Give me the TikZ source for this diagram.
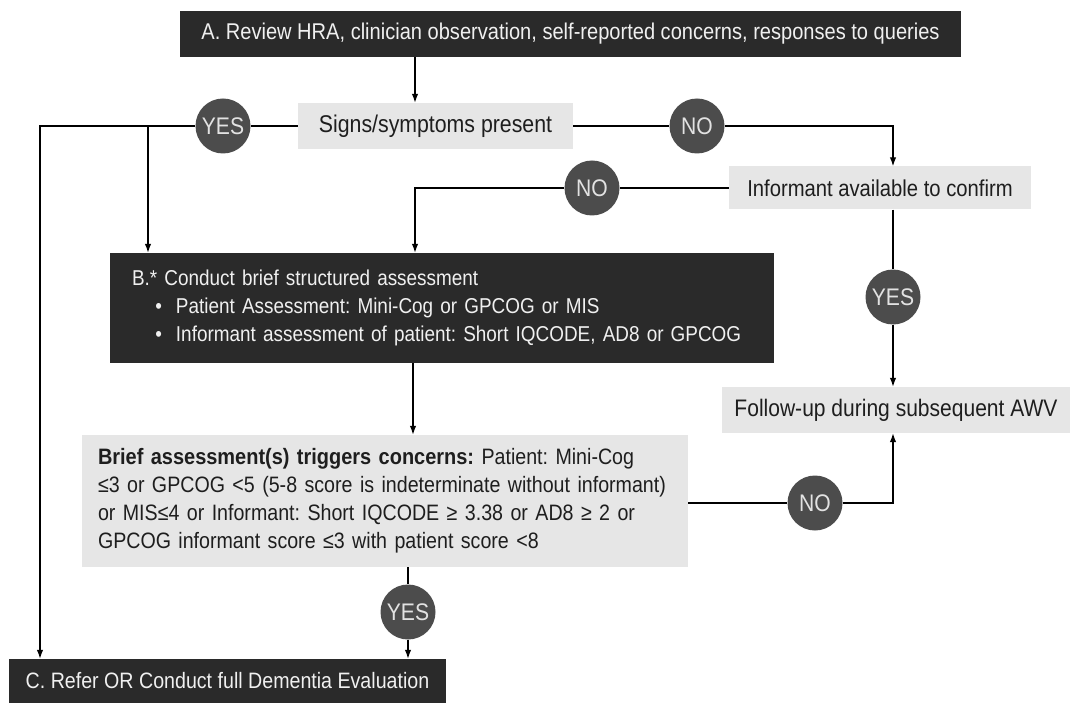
\documentclass[tikz,border=0pt]{standalone}
\usepackage{fontspec}
\setmainfont{Liberation Sans}[FakeStretch=0.88,BoldFeatures={FakeStretch=0.895}]
\usetikzlibrary{arrows.meta}
\definecolor{darkbox}{HTML}{2A2A2A}
\definecolor{lightbox}{HTML}{E6E6E6}
\definecolor{circ}{HTML}{4C4C4C}
\definecolor{lighttext}{HTML}{F0F0F0}
\definecolor{circtext}{HTML}{E2E2E2}
\definecolor{darktext}{HTML}{1E1E1E}
\newcommand{\fs}[1]{\fontsize{#1}{28}\selectfont\frenchspacing}
\begin{document}
\begin{tikzpicture}[x=1pt,y=-1pt,
  darkstep/.style={fill=darkbox,draw=none,text=lighttext,inner sep=0pt,font=\fs{22}},
  lightstep/.style={fill=lightbox,draw=none,text=darktext,inner sep=0pt,font=\fs{22}},
  answer/.style={circle,fill=circ,draw=none,text=circtext,minimum size=55pt,inner sep=0pt,font=\fs{24}},
  conn/.style={draw=black,line width=1.3pt},
  arr/.style={conn,-{Latex[length=9pt,width=6.5pt]}}]
\useasboundingbox (0,0) rectangle (1070,703);
% boxes
\node[darkstep,minimum width=781pt,minimum height=46pt,font=\fs{22.8}] (A) at (570.5,34)
  {A. Review HRA, clinician observation, self-reported concerns, responses to queries};
\node[lightstep,minimum width=275pt,minimum height=46pt,font=\fs{24.2}] (S) at (435.5,126)
  {Signs/symptoms present};
\node[lightstep,minimum width=302pt,minimum height=43pt,font=\fs{23}] (I) at (880,188)
  {Informant available to confirm};
\node[darkstep,minimum width=664pt,minimum height=110pt,text width=656pt,align=left,font=\fs{21.5}] (B) at (442,308)
  {\hspace*{18pt}B.* Conduct brief structured assessment\\
   \hspace*{62pt}\llap{\textbullet\hspace{14pt}}Patient Assessment: Mini-Cog or GPCOG or MIS\\
   \hspace*{62pt}\llap{\textbullet\hspace{14pt}}Informant assessment of patient: Short IQCODE, AD8 or GPCOG};
\node[lightstep,minimum width=606pt,minimum height=132pt,text width=574pt,align=left,font=\fs{22.3}] (T) at (385,501)
  {\textbf{Brief assessment(s) triggers concerns:} Patient: Mini-Cog\\
   ≤3 or GPCOG <5 (5-8 score is indeterminate without informant)\\
   or MIS≤4 or Informant: Short IQCODE ≥ 3.38 or AD8 ≥ 2 or\\
   GPCOG informant score ≤3 with patient score <8};
\node[lightstep,minimum width=348pt,minimum height=46pt,font=\fs{23.9}] (F) at (896,410)
  {Follow-up during subsequent AWV};
\node[darkstep,minimum width=437pt,minimum height=44pt,font=\fs{22.3}] (C) at (227.5,681)
  {C. Refer OR Conduct full Dementia Evaluation};
% answer circles
\node[answer] (Y1) at (223,126) {YES};
\node[answer] (N1) at (697,126) {NO};
\node[answer] (N2) at (592,188) {NO};
\node[answer] (Y3) at (893,297) {YES};
\node[answer] (N4) at (815,503) {NO};
\node[answer] (Y5) at (408,612) {YES};
% guide coordinates
\coordinate (xL) at (40,0);
\coordinate (xY) at (148,0);
\coordinate (xA) at (415,0);
\coordinate (xM) at (413,0);
\coordinate (xR) at (893,0);
\coordinate (x5) at (408,0);
% connectors
\draw[arr] (A.south -| xA) -- (S.north -| xA);
\draw[conn] (S.west) -- (Y1);
\draw[arr] (Y1.west) -- (xL |- Y1) -- (C.north -| xL);
\draw[arr] (xY |- Y1) -- (B.north -| xY);
\draw[conn] (S.east) -- (N1);
\draw[arr] (N1.east) -- (xR |- N1) -- (I.north -| xR);
\draw[conn] (I.west) -- (N2);
\draw[arr] (N2.west) -- (xA |- N2) -- (B.north -| xA);
\draw[conn] (I.south -| xR) -- (Y3);
\draw[arr] (Y3) -- (F.north -| xR);
\draw[arr] (B.south -| xM) -- (T.north -| xM);
\draw[conn] (T.east |- N4) -- (N4);
\draw[arr] (N4.east) -- (xR |- N4) -- (F.south -| xR);
\draw[conn] (T.south -| x5) -- (Y5);
\draw[arr] (Y5) -- (C.north -| x5);
\end{tikzpicture}
\end{document}
